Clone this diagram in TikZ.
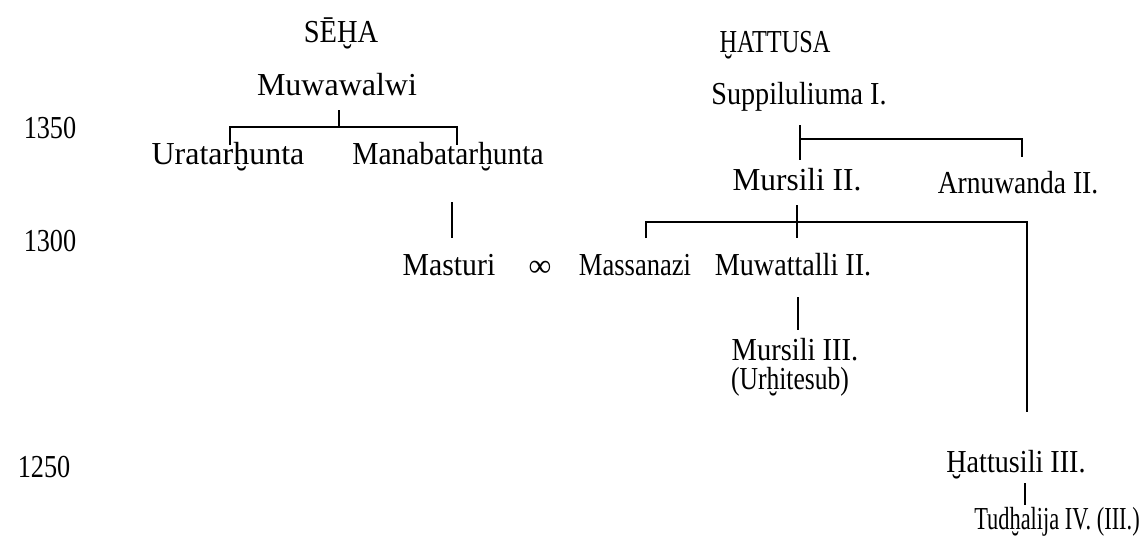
\documentclass[tikz,border=0pt]{standalone}
\usepackage{graphicx}
\usepackage{fontspec}
\setmainfont{Liberation Serif}
\newcommand{\fs}[1]{\fontsize{#1}{#1}\selectfont}
\newcommand{\hsq}[2]{\scalebox{#1}[1]{#2}}
\begin{document}
\begin{tikzpicture}[x=1pt,y=-1pt,
  lbl/.style={inner sep=0pt,font=\fs{32}},
  yr/.style={inner sep=0pt,font=\fs{32}},
  ln/.style={line width=2.8pt}]
\useasboundingbox (0,0) rectangle (1148,542);
% headings
\node[lbl] (seha) at (341,33) {\hsq{0.89}{SĒḪA}};
\node[lbl] (hatt) at (775,45) {\hsq{0.76}{ḪATTUSA}};
% years
\node[yr] (y1350) at (50,128) {\hsq{0.82}{1350}};
\node[yr] (y1300) at (50,241) {\hsq{0.82}{1300}};
\node[yr] (y1250) at (44,467) {\hsq{0.82}{1250}};
% Seha
\node[lbl] (muwa) at (337,85) {Muwawalwi};
\node[lbl] (ura) at (228,157) {Uratarḫunta};
\node[lbl] (mana) at (448,157) {\hsq{0.92}{Manabatarḫunta}};
\node[lbl] (mast) at (449,265) {\hsq{0.93}{Masturi}};
\node[lbl] (inf) at (540,269) {∞};
% Hattusa
\node[lbl] (supp) at (799,97) {\hsq{0.88}{Suppiluliuma I.}};
\node[lbl] (mur2) at (797,180) {\hsq{0.98}{Mursili II.}};
\node[lbl] (arnu) at (1018,183) {\hsq{0.86}{Arnuwanda II.}};
\node[lbl] (mass) at (635,265) {\hsq{0.83}{Massanazi}};
\node[lbl] (muwt) at (793,265) {\hsq{0.88}{Muwattalli II.}};
\node[lbl] (mur3) at (795,350) {\hsq{0.89}{Mursili III.}};
\node[lbl] (urhi) at (790,382) {\hsq{0.8}{(Urḫitesub)}};
\node[lbl] (hats) at (1016,465) {\hsq{0.88}{Ḫattusili III.}};
\node[lbl] (tudh) at (1057,522) {\hsq{0.7}{Tudḫalija IV. (III.)}};
% junction coordinates
\coordinate (b1) at (339,127);
\coordinate (b2) at (800,139);
\coordinate (b3) at (797,222);
% Muwawalwi bracket
\draw[ln] (b1 |- 0,110) -- (b1);
\draw[ln] (230,145) -- (230,127) -- (457,127) -- (457,145);
% Suppiluliuma bracket
\draw[ln] (800,125) -- (800,160);
\draw[ln] (b2) -- (1022,139) -- (1022,157);
% Manabatarhunta - Masturi
\draw[ln] (452,202) -- (452,238);
% Mursili II bracket
\draw[ln] (797,205) -- (797,238);
\draw[ln] (646,238) -- (646,222) -- (1027,222) -- (1027,412);
% Muwattalli - Mursili III
\draw[ln] (798,297) -- (798,330);
% Hattusili - Tudhalija
\draw[ln] (1025,483) -- (1025,505);
\end{tikzpicture}
\end{document}
